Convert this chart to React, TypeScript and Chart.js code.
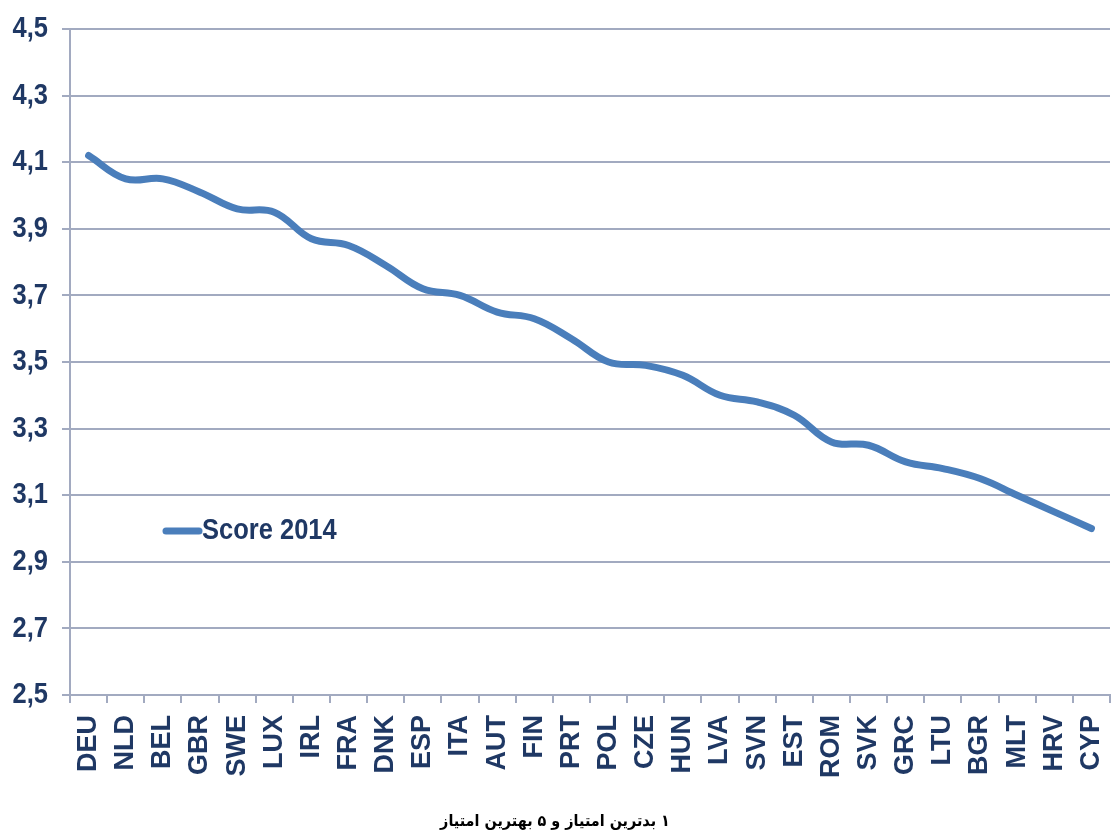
import { useEffect, useRef } from "react";
import { Chart, registerables } from "chart.js";

Chart.register(...registerables);

const countries = [
  "DEU", "NLD", "BEL", "GBR", "SWE", "LUX", "IRL", "FRA", "DNK", "ESP",
  "ITA", "AUT", "FIN", "PRT", "POL", "CZE", "HUN", "LVA", "SVN", "EST",
  "ROM", "SVK", "GRC", "LTU", "BGR", "MLT", "HRV", "CYP",
];

const scores2014 = [
  4.12, 4.05, 4.05, 4.01, 3.96, 3.95, 3.87, 3.85, 3.79, 3.72,
  3.70, 3.65, 3.63, 3.57, 3.50, 3.49, 3.46, 3.40, 3.38, 3.34,
  3.26, 3.25, 3.20, 3.18, 3.15, 3.10, 3.05, 3.00,
];

const seriesLabel = "Score 2014";

const yTickLabels = ["2,5", "2,7", "2,9", "3,1", "3,3", "3,5", "3,7", "3,9", "4,1", "4,3", "4,5"];

const footnote = "۱ بدترین امتیاز و ۵ بهترین امتیاز";

const TEXT = "#1F3864";
const LINE = "#4A7EBB";
const GRID = "#A2AAC0";
const SANS = '"Liberation Sans", Arial, sans-serif';
const CONDENSE = 0.85;

// Draws the y tick labels (condensed), the inline legend and the footnote.
const customText = {
  id: "customText",
  afterDraw(chart: any) {
    const { ctx, chartArea } = chart;
    const yScale = chart.scales.y;
    ctx.save();
    ctx.fillStyle = TEXT;
    ctx.font = `bold 30px ${SANS}`;
    ctx.textBaseline = "middle";
    ctx.textAlign = "right";
    yScale.ticks.forEach((t: any, i: number) => {
      const y = yScale.getPixelForValue(t.value);
      ctx.save();
      ctx.translate(chartArea.left - 22, y);
      ctx.scale(CONDENSE, 1);
      ctx.fillText(yTickLabels[i], 0, 0);
      ctx.restore();
    });

    // inline legend
    const ds = chart.data.datasets[0];
    const x0 = chartArea.left + 96;
    const ly = chartArea.top + 502;
    ctx.strokeStyle = ds.borderColor;
    ctx.lineWidth = 7;
    ctx.lineCap = "round";
    ctx.beginPath();
    ctx.moveTo(x0, ly);
    ctx.lineTo(x0 + 33, ly);
    ctx.stroke();
    ctx.save();
    ctx.translate(x0 + 36, ly);
    ctx.scale(CONDENSE, 1);
    ctx.textAlign = "left";
    ctx.fillText(ds.label, 0, 0);
    ctx.restore();

    // footnote
    ctx.save();
    ctx.translate(555, 822);
    ctx.scale(0.9, 1);
    (ctx as any).direction = "rtl";
    ctx.textAlign = "center";
    ctx.fillStyle = "#000";
    ctx.font = `bold 16px "DejaVu Sans", sans-serif`;
    ctx.fillText(footnote, 0, 0);
    ctx.restore();

    ctx.restore();
  },
};

export default function App() {
  const ref = useRef<HTMLCanvasElement | null>(null);

  useEffect(() => {
    if (!ref.current) return;
    const chart = new Chart(ref.current, {
      type: "line",
      data: {
        labels: countries,
        datasets: [
          {
            label: seriesLabel,
            data: scores2014,
            borderColor: LINE,
            backgroundColor: LINE,
            borderWidth: 7,
            borderCapStyle: "round",
            borderJoinStyle: "round",
            pointRadius: 0,
            tension: 0.4,
            fill: false,
          },
        ],
      },
      options: {
        animation: false,
        responsive: false,
        layout: { padding: { top: 29, right: 1, left: 0, bottom: 0 } },
        plugins: {
          legend: { display: false },
          tooltip: { enabled: false },
          title: { display: false },
        },
        scales: {
          x: {
            offset: true,
            grid: {
              display: true,
              drawOnChartArea: false,
              drawTicks: true,
              tickLength: 8,
              color: GRID,
              lineWidth: 2,
              offset: true,
            },
            border: { display: true, color: GRID, width: 2 },
            ticks: {
              autoSkip: false,
              minRotation: 90,
              maxRotation: 90,
              padding: 12,
              color: TEXT,
              font: { family: SANS, size: 27, weight: "bold" },
            },
            afterFit: (s: any) => {
              s.height = 834 - 695;
              s.paddingRight = 0;
              s.paddingLeft = 0;
            },
          },
          y: {
            min: 2.5,
            max: 4.5,
            ticks: {
              stepSize: 0.2,
              display: false,
            },
            grid: { color: GRID, lineWidth: 2, tickLength: 8 },
            border: { display: true, color: GRID, width: 2 },
            afterFit: (s: any) => {
              s.width = 70;
            },
          },
        },
      },
      plugins: [customText],
    });
    return () => chart.destroy();
  }, []);

  return (
    <div style={{ position: "absolute", left: 0, top: 0, width: 1111, height: 834, background: "#fff" }}>
      <canvas ref={ref} width={1111} height={834} />
    </div>
  );
}
